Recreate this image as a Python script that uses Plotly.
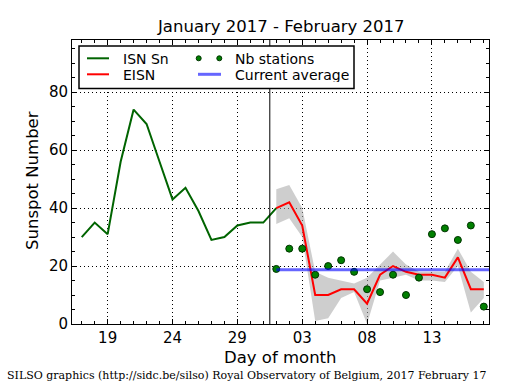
import plotly.graph_objects as go

# Day numbers: Jan 1 = 1, Feb 1 = 32
isn_days = list(range(17, 33))
isn_vals = [30, 35, 31, 56, 74, 69, 56, 43, 47, 39, 29, 30, 34, 35, 35, 40]

eisn_days = list(range(32, 49))
eisn_vals = [40, 42, 34, 10, 10, 12, 12, 7, 17, 20, 18, 17, 17, 16, 23, 12, 12]
eisn_upper = [46.5, 48, 40, 18, 16, 15, 14, 16, 20.5, 25, 20.5, 18, 18, 18, 26, 18, 14.5]
eisn_lower = [34.5, 36.5, 30, 1, 2, 9, 11, 0, 15, 16, 17, 15, 15, 14.5, 20, 4, 9]
stations = [19, 26, 26, 17, 20, 22, 18, 12, 11, 17, 10, 16, 31, 33, 29, 34, 6]

current_average = 18.7
avg_days = [32, 48.4]
month_boundary = 31.5

tick_vals = [19, 24, 29, 34, 39, 44]
tick_text = ["19", "24", "29", "03", "08", "13"]
x_range = [16.25, 48.4]
y_range = [0, 98]

font = "DejaVu Sans"
W, H = 515, 390
ML, MR, MT, MB = 72, 26, 40, 66
PW, PH = W - ML - MR, H - MT - MB


def px(xp):
    return (xp - ML) / PW


def py(yp):
    return (H - MB - yp) / PH


GREEN_LINE = "#006400"
RED = "#ff0000"
DOT = "#008000"
DOT_EDGE = "#003300"
BLUE = "rgba(0,0,255,0.6)"

fig = go.Figure()

fig.add_trace(go.Scatter(
    x=eisn_days + eisn_days[::-1], y=eisn_upper + eisn_lower[::-1],
    fill="toself", fillcolor="rgba(165,165,165,0.55)", line=dict(width=0),
    showlegend=False, hoverinfo="skip"))
fig.add_trace(go.Scatter(x=isn_days, y=isn_vals, mode="lines", name="ISN Sn",
                         line=dict(color=GREEN_LINE, width=2)))
fig.add_trace(go.Scatter(x=eisn_days, y=eisn_vals, mode="lines", name="EISN",
                         line=dict(color=RED, width=2)))
fig.add_trace(go.Scatter(x=eisn_days, y=stations, mode="markers", name="Nb stations",
                         marker=dict(color=DOT, size=7, line=dict(color=DOT_EDGE, width=1))))
fig.add_trace(go.Scatter(x=avg_days, y=[current_average] * len(avg_days), mode="lines",
                         name="Current average", line=dict(color=BLUE, width=3)))

shapes = [dict(type="line", x0=month_boundary, x1=month_boundary, y0=0, y1=1,
               xref="x", yref="paper", line=dict(color="black", width=1))]

# Manual legend (matplotlib-like two-column box)
shapes.append(dict(type="rect", xref="paper", yref="paper",
                   x0=px(79), x1=px(354), y0=py(88.5), y1=py(46),
                   line=dict(color="black", width=1.5), fillcolor="white", layer="above"))
row1, row2 = 58.3, 74.3
shapes.append(dict(type="line", xref="paper", yref="paper", x0=px(87), x1=px(109),
                   y0=py(row1), y1=py(row1), line=dict(color=GREEN_LINE, width=2), layer="above"))
shapes.append(dict(type="line", xref="paper", yref="paper", x0=px(87), x1=px(109),
                   y0=py(row2), y1=py(row2), line=dict(color=RED, width=2), layer="above"))
shapes.append(dict(type="line", xref="paper", yref="paper", x0=px(198), x1=px(221),
                   y0=py(row2), y1=py(row2), line=dict(color=BLUE, width=3), layer="above"))
for cx in (198.7, 219.3):
    shapes.append(dict(type="circle", xref="paper", yref="paper",
                       x0=px(cx - 2.5), x1=px(cx + 2.5), y0=py(row1 + 2.5), y1=py(row1 - 2.5),
                       fillcolor=DOT, line=dict(color=DOT_EDGE, width=1), layer="above"))

legend_font = dict(family=font, size=14, color="black")
annotations = []
for text, x0, yrow in (("ISN Sn", 122, row1), ("EISN", 122, row2),
                       ("Nb stations", 233.5, row1), ("Current average", 233.5, row2)):
    annotations.append(dict(text=text, xref="paper", yref="paper", x=px(x0), y=py(yrow),
                            xanchor="left", yanchor="middle", showarrow=False,
                            height=15, borderpad=0, font=legend_font))

title_font = dict(family=font, size=16.5, color="black")
annotations.append(dict(text="January 2017 - February 2017", xref="paper", yref="paper",
                        x=px(280.5), y=py(27), xanchor="center", yanchor="middle",
                        showarrow=False, font=title_font))
annotations.append(dict(text="Day of month", xref="paper", yref="paper",
                        x=px(280.5), y=py(357), xanchor="center", yanchor="middle",
                        showarrow=False, font=title_font))
annotations.append(dict(text="Sunspot Number", xref="paper", yref="paper",
                        x=px(32), y=py(181), xanchor="center", yanchor="middle", textangle=-90,
                        showarrow=False, font=title_font))
annotations.append(dict(
    text="SILSO graphics (http://sidc.be/silso) Royal Observatory of Belgium, 2017 February 17",
    xref="paper", yref="paper", x=px(5), y=py(375.5), xanchor="left", yanchor="middle",
    showarrow=False, font=dict(family="DejaVu Serif", size=11, color="black")))

axis_common = dict(
    showline=True, linecolor="black", linewidth=1, mirror="allticks",
    ticks="inside", ticklen=5, tickcolor="black",
    showgrid=True, gridcolor="black", griddash="1px,3px", gridwidth=1,
    zeroline=False, automargin=False,
    tickfont=dict(family=font, size=15, color="black"),
)

fig.update_xaxes(
    range=x_range, tickmode="array", tickvals=tick_vals, ticktext=tick_text,
    minor=dict(ticks="inside", ticklen=3, dtick=1, tick0=0, tickcolor="black", showgrid=False),
    **axis_common)
fig.update_yaxes(
    range=y_range, tickmode="linear", tick0=0, dtick=20,
    minor=dict(ticks="inside", ticklen=3, dtick=5, tick0=0, tickcolor="black", showgrid=False),
    **axis_common)

fig.update_layout(
    width=W, height=H,
    margin=dict(l=ML, r=MR, t=MT, b=MB),
    paper_bgcolor="white", plot_bgcolor="white",
    showlegend=False,
    shapes=shapes,
    annotations=annotations,
)

fig.write_html("out.html", config={"displayModeBar": False},
               post_script="document.body.style.margin='0';")
